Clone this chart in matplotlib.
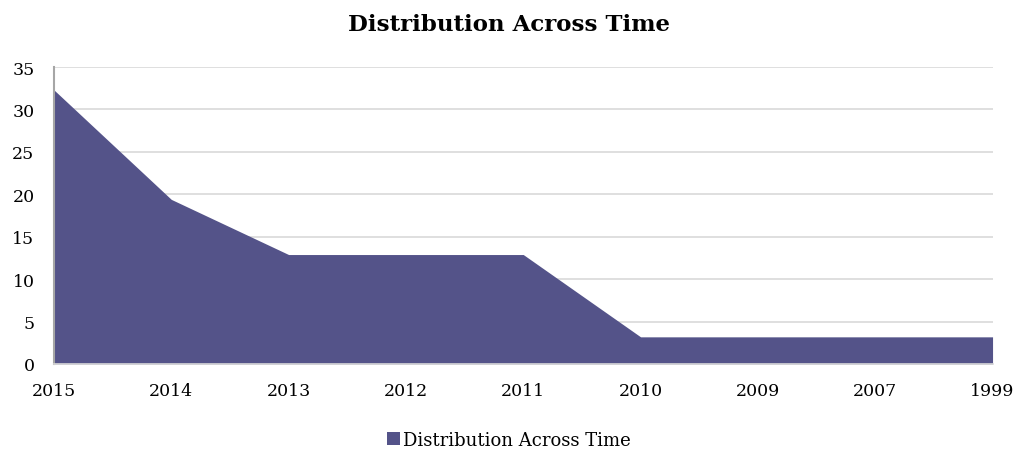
import matplotlib.pyplot as plt
from matplotlib.patches import Patch

years = ['2015', '2014', '2013', '2012', '2011', '2010', '2009', '2007', '1999']
share = [32.3, 19.4, 12.9, 12.9, 12.9, 3.2, 3.2, 3.2, 3.2]
yticks = [0, 5, 10, 15, 20, 25, 30, 35]

plt.rcParams['font.family'] = ['DejaVu Serif']
fill = '#545389'

fig = plt.figure(figsize=(10.18, 4.52), dpi=100)
ax = fig.add_axes([0.053, 0.1925, 0.922, 0.657])

x = list(range(len(years)))
ax.fill_between(x, share, 0, color=fill, linewidth=0, zorder=2)

ax.set_xlim(0, len(years) - 1)
ax.set_ylim(0, 35)
ax.set_yticks(yticks)
ax.set_xticks(x)
ax.set_xticklabels(years)
ax.tick_params(axis='both', length=0, labelsize=12.5)
ax.tick_params(axis='y', pad=14)
ax.tick_params(axis='x', pad=13)
ax.grid(axis='y', color='#d9d9d9', linewidth=1.2, zorder=0)
for s in ['top', 'right']:
    ax.spines[s].set_visible(False)
ax.spines['left'].set_color('#a6a6a6')
ax.spines['left'].set_linewidth(1.5)
ax.spines['bottom'].set_color('#d9d9d9')
ax.spines['bottom'].set_linewidth(1.2)

fig.suptitle('Distribution Across Time', y=0.97, fontsize=16.5, fontweight='bold')

handle = Patch(facecolor=fill, edgecolor='none')
fig.legend([handle], ['Distribution Across Time'], loc='center', bbox_to_anchor=(0.5, 0.025),
           frameon=False, fontsize=13, handlelength=0.7, handleheight=0.7, handletextpad=0.15)

fig.savefig('out.png', dpi=100)
